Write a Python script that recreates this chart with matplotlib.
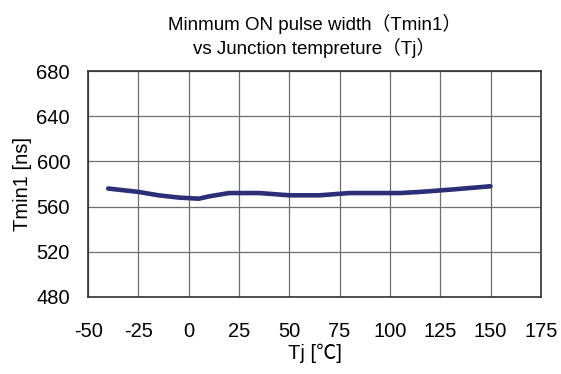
import matplotlib
matplotlib.use("Agg")
import matplotlib.pyplot as plt

# Tj [degC] vs Tmin1 [ns]
tj = [-40, -25, -15, -5, 5, 10, 20, 35, 50, 65, 80, 105, 115, 130, 150]
tmin1 = [576, 573, 570, 568, 567, 569, 572, 572, 570, 570, 572, 572, 573, 575, 578]

xticks = [-50, -25, 0, 25, 50, 75, 100, 125, 150, 175]
yticks = [480, 520, 560, 600, 640, 680]

plt.rcParams['font.family'] = ['Liberation Sans', 'Noto Sans CJK JP', 'DejaVu Sans']
plt.rcParams['axes.unicode_minus'] = False

fig = plt.figure(figsize=(5.61, 3.74), dpi=100)
ax = fig.add_axes([0.157, 0.206, 0.807, 0.604])

ax.plot(tj, tmin1, color='#2b2f78', linewidth=3.3, solid_capstyle='round')

ax.set_xlim(-50, 175)
ax.set_ylim(480, 680)
ax.set_xticks(xticks)
ax.set_yticks(yticks)
ax.grid(True, color='#6e6e6e', linewidth=0.9)
ax.tick_params(direction='in', length=0, labelsize=14.5)
ax.tick_params(axis='x', pad=18)
ax.tick_params(axis='y', pad=13)
for s in ax.spines.values():
    s.set_color('#333333')
    s.set_linewidth(1.2)

ax.set_xlabel('Tj [℃]', fontsize=14.5, labelpad=2)
ax.set_ylabel('Tmin1 [ns]', fontsize=14.5, labelpad=3)
ax.set_title('Minmum ON pulse width（Tmin1）\nvs Junction tempreture（Tj）',
             fontsize=13.5, linespacing=1.3, pad=12)

fig.savefig('out.png', dpi=100)
